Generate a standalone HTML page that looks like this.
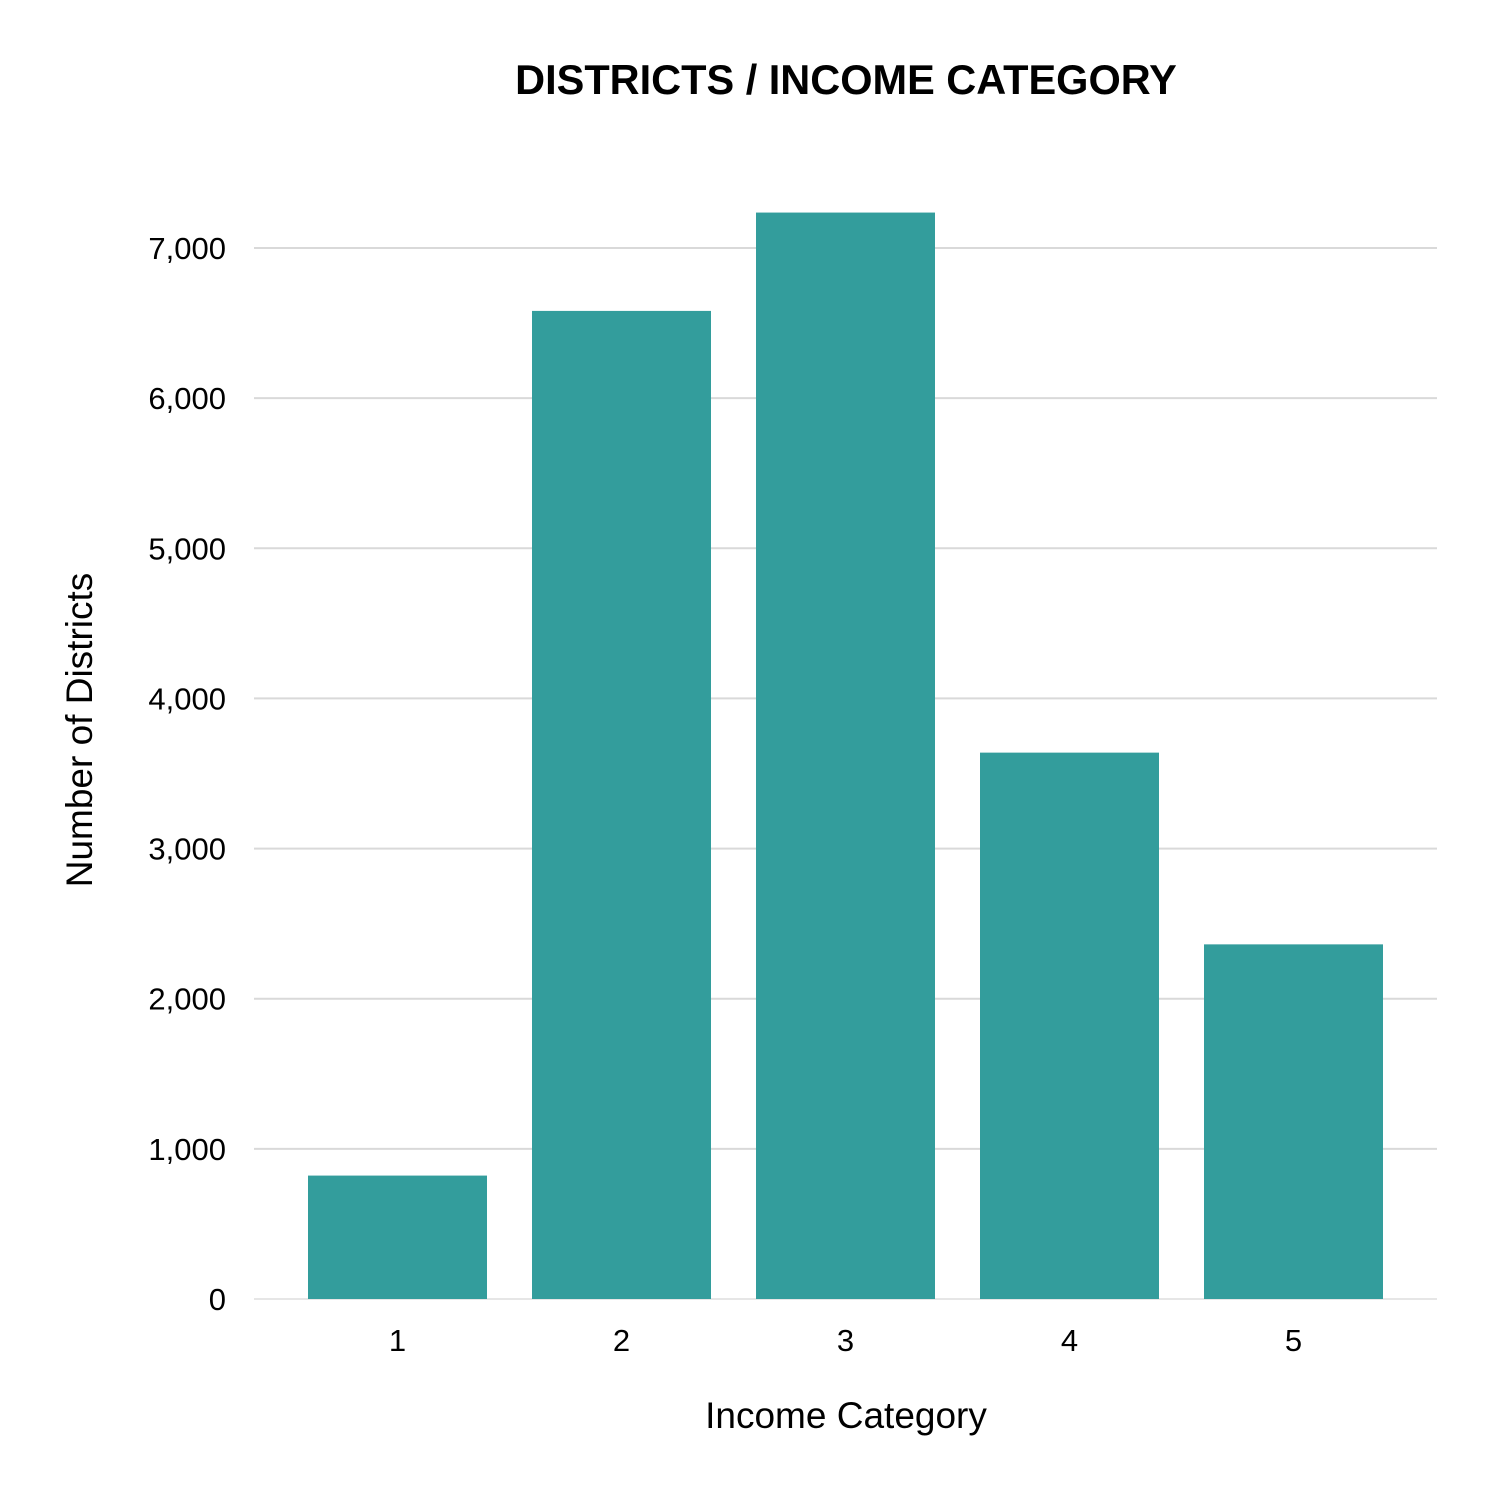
<!DOCTYPE html>
<html><head><meta charset="utf-8"><style>
html,body{margin:0;padding:0;background:#fff;}
svg text{font-family:"Liberation Sans",Arial,sans-serif;}
</style></head><body>
<svg id="chart" width="1500" height="1500" viewBox="0 0 1500 1500" xmlns="http://www.w3.org/2000/svg">
<rect width="1500" height="1500" fill="#fff"/>
<text x="846" y="94" text-anchor="middle" font-size="41.5" font-weight="bold" fill="#000">DISTRICTS / INCOME CATEGORY</text>
<g id="grid"></g>
<g id="yticks"></g>
<g id="bars"></g>
<g id="xticks"></g>
<text x="846" y="1428" text-anchor="middle" font-size="37" fill="#000">Income Category</text>
<text transform="translate(92,730) rotate(-90)" text-anchor="middle" font-size="37" fill="#000">Number of Districts</text>
</svg>
<script>
const categories = ["1","2","3","4","5"];
const counts = [822, 6581, 7236, 3639, 2362];
const yTicks = [0,1000,2000,3000,4000,5000,6000,7000];
const yTickLabels = ["0","1,000","2,000","3,000","4,000","5,000","6,000","7,000"];

const NS="http://www.w3.org/2000/svg";
const left=254,right=1437,y0=1299,y7000=248;
const yScale=v=>y0-(v/7000)*(y0-y7000);
const step=224;
const firstCenter=397.5;
const xCenter=i=>firstCenter+step*i;
const barW=179;
function mk(tag,attrs,parent){const e=document.createElementNS(NS,tag);for(const k in attrs)e.setAttribute(k,attrs[k]);parent.appendChild(e);return e;}
const grid=document.getElementById('grid'),yt=document.getElementById('yticks'),bars=document.getElementById('bars'),xt=document.getElementById('xticks');
yTicks.forEach((v,i)=>{
  const y=yScale(v);
  const l=mk('line',{x1:left,x2:right,y1:y,y2:y,stroke:v===0?'#e6e6e6':'#d9d9d9','stroke-width':2},grid);
  
  
  const t=mk('text',{x:226,y:y+11,'text-anchor':'end','font-size':31,fill:'#000'},yt);
  t.textContent=yTickLabels[i];
  
  
});
categories.forEach((c,i)=>{
  const y=yScale(counts[i]);
  const r=mk('rect',{x:xCenter(i)-barW/2,y:y,width:barW,height:y0-y,fill:'#339d9c'},bars);
  
  
  const t=mk('text',{x:xCenter(i),y:1351,'text-anchor':'middle','font-size':31,fill:'#000'},xt);
  t.textContent=c;
  
  
});
</script>
</body></html>
